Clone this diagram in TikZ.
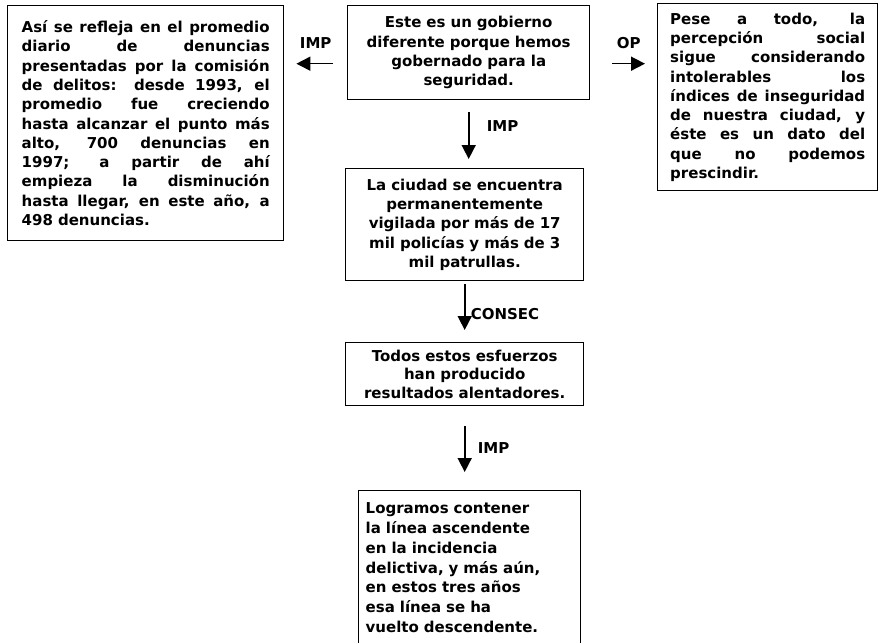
\documentclass[tikz,border=0pt]{standalone}
\usepackage{fontspec}
\setmainfont{DejaVu Sans}
\usepackage{tikz}
\usetikzlibrary{arrows.meta}

% linea justificada a todo el ancho
\newcommand{\lineajust}[1]{\makebox[\linewidth][s]{\spaceskip=0pt\xspaceskip=0pt #1}}

\begin{document}
\begin{tikzpicture}
    [x=1pt, y=-1pt,
    caja/.style = {draw, line width=1.4pt, inner ysep=3pt, anchor=north west,
                   font=\fontsize{15}{19.3}\selectfont\bfseries},
    flecha/.style = {line width=1.6pt, -{Triangle[length=14pt,width=14pt]}},
    etiq/.style = {font=\fontsize{15}{18}\selectfont\bfseries}]
    \useasboundingbox (0,0) rectangle (880,642);
    \clip (0,0) rectangle (880,642);
    % Caja central superior
    \node[caja, text width=222pt, inner xsep=10pt, minimum height=94pt, align=center] (gobierno) at (347,5)
        {Este es un gobierno\\ diferente porque hemos\\ gobernado para la\\ seguridad.};
    % Caja izquierda
    \node[caja, text width=248pt, inner xsep=14pt, minimum height=235pt, align=left] (promedio) at (7,5)
        {\lineajust{Así se refleja en el promedio}\\
         \lineajust{diario de denuncias}\\
         \lineajust{presentadas por la comisión}\\
         \lineajust{de delitos: desde 1993, el}\\
         \lineajust{promedio fue creciendo}\\
         \lineajust{hasta alcanzar el punto más}\\
         \lineajust{alto, 700 denuncias en}\\
         \lineajust{1997; a partir de ahí}\\
         \lineajust{empieza la disminución}\\
         \lineajust{hasta llegar, en este año, a}\\
         498 denuncias.};
    % Caja derecha
    \node[caja, text width=195pt, inner xsep=12.5pt, minimum height=187pt, align=left] (percepcion) at (657,3)
        {\lineajust{Pese a todo, la}\\
         \lineajust{percepción social}\\
         \lineajust{sigue considerando}\\
         \lineajust{intolerables los}\\
         \lineajust{índices de inseguridad}\\
         \lineajust{de nuestra ciudad, y}\\
         \lineajust{éste es un dato del}\\
         \lineajust{que no podemos}\\
         prescindir.};
    % Cajas de la columna central
    \node[caja, text width=220pt, inner xsep=9pt, minimum height=112pt, align=center] (vigilada) at (345,168)
        {La ciudad se encuentra\\ permanentemente\\ vigilada por más de 17\\ mil policías y más de 3\\ mil patrullas.};
    \node[caja, text width=220pt, inner xsep=9pt, minimum height=63pt, align=center,
          font=\fontsize{15}{18.5}\selectfont\bfseries] (esfuerzos) at (345,342)
        {Todos estos esfuerzos\\ han producido\\ resultados alentadores.};
    \node[caja, text width=208pt, inner xsep=7pt, inner ysep=12pt, align=left,
          font=\fontsize{15}{19.8}\selectfont\bfseries] (logramos) at (358,490)
        {Logramos contener\\ la línea ascendente\\ en la incidencia\\ delictiva, y más aún,\\ en estos tres años\\ esa línea se ha\\ vuelto descendente.};
    % Flechas
    \draw[flecha, shorten <=14pt, shorten >=12pt] ([yshift=-11pt]gobierno.west) -- ([yshift=-11pt]gobierno.west -| promedio.east)
        node[midway, above=11pt, etiq] {IMP};
    \draw[flecha, shorten <=22pt, shorten >=12pt] ([yshift=-11pt]gobierno.east) -- ([yshift=-11pt]gobierno.east -| percepcion.west)
        node[midway, above=11pt, xshift=5pt, etiq] {OP};
    \draw[flecha, shorten <=12pt, shorten >=9pt] (gobierno.south) -- (gobierno.south |- vigilada.north)
        node[midway, right=14pt, yshift=8pt, etiq] {IMP};
    \draw[flecha, shorten <=3pt, shorten >=12pt] (vigilada.south) -- (esfuerzos.north)
        node[midway, right=2pt, yshift=-2pt, etiq] {CONSEC};
    \draw[flecha, shorten <=20pt, shorten >=18pt] (esfuerzos.south) -- (esfuerzos.south |- logramos.north)
        node[midway, right=9pt, etiq] {IMP};
\end{tikzpicture}
\end{document}
